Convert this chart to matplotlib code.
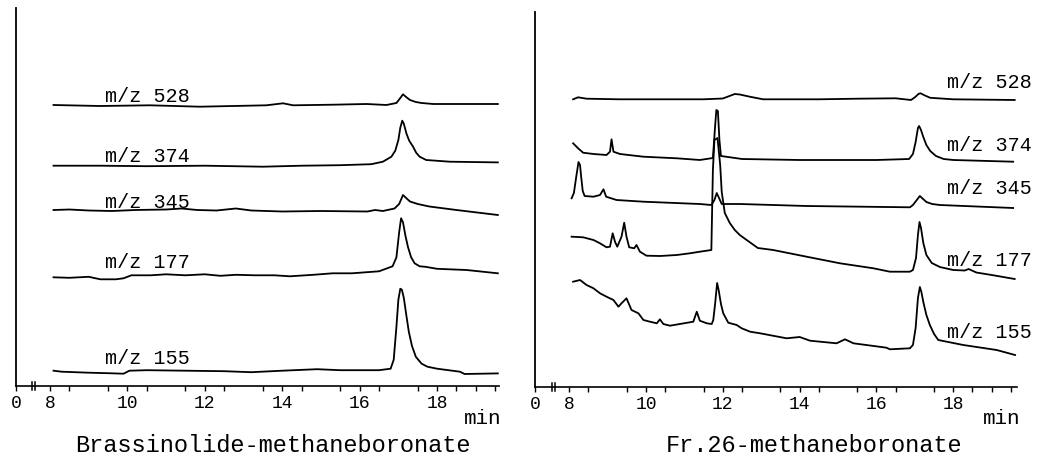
import matplotlib
matplotlib.use("Agg")
import matplotlib.pyplot as plt

W, H, DPI = 1041, 466, 100
plt.rcParams["font.family"] = ["Liberation Mono", "DejaVu Sans Mono"]

# ------------------------------------------------------------------ data
# selected-ion traces, retention time (min) vs. relative signal above each
# trace's own baseline (arbitrary units)
ions = ["528", "374", "345", "177", "155"]
tick_min = [8, 10, 12, 14, 16, 18]

# Brassinolide-methaneboronate
bl_528_t = [8.09, 9.29, 10.58, 11.87, 13.59, 14.02, 14.28, 15.31, 16.18, 16.69,
            16.95, 17.05, 17.12, 17.2, 17.3, 17.45, 17.6, 17.9, 19.57]
bl_528_s = [0, -1, -0.3, -1.7, -0.3, 1.7, -0.3, 0.3, 1, 0, 2, 7, 10.7, 8, 5, 3,
            2, 1, 1]

bl_374_t = [8.09, 9.3, 10.5, 12.0, 13.5, 14.5, 15.5, 16.3, 16.6, 16.82, 16.92,
            17.0, 17.05, 17.10, 17.14, 17.21, 17.28, 17.38, 17.46, 17.55, 17.72,
            18.33, 19.57]
bl_374_s = [0, 0, -0.5, 0, -1, 0, 0.5, 1.5, 4, 9, 15, 25.7, 38, 45, 42, 32, 25,
            19, 13, 9, 5.7, 4, 3.3]

bl_345_t = [8.09, 8.5, 9.0, 9.6, 10.2, 11.0, 11.4, 11.8, 12.3, 12.8, 13.2, 14.0,
            15.0, 16.2, 16.4, 16.6, 16.9, 17.02, 17.12, 17.2, 17.3, 17.5, 17.8,
            18.5, 19.57]
bl_345_s = [0, 0.5, -0.5, -1, 0, 0.5, 1.5, 0, -0.5, 1.5, -0.5, -1.5, -1, -1.5, 0,
            -1, 1.5, 6, 15, 12, 8.5, 6, 3.5, 0, -5]

bl_177_t = [8.09, 8.5, 9.0, 9.3, 9.7, 9.9, 10.1, 10.6, 11.0, 11.5, 12.0, 12.4,
            12.8, 13.3, 13.8, 14.2, 14.8, 15.3, 15.8, 16.5, 16.85, 16.95, 17.02,
            17.07, 17.12, 17.18, 17.25, 17.33, 17.42, 17.55, 17.7, 18.0, 18.76,
            19.57]
bl_177_s = [0, -0.5, 0.5, -2, -2, -1, 2, 2, 3, 2, 3, 1.5, 2.5, 2, 2, 1, 2.5, 4, 4,
            6, 11, 20, 45, 59, 55, 42, 30, 20, 14, 11, 10.5, 8.5, 7.3, 4]

bl_155_t = [8.09, 8.3, 9.0, 9.5, 9.9, 10.05, 10.5, 11.5, 12.5, 13.2, 14.0, 14.9,
            15.5, 16.5, 16.8, 16.88, 16.95, 17.0, 17.05, 17.09, 17.14, 17.2, 17.27,
            17.35, 17.45, 17.6, 17.75, 18.0, 18.59, 18.71, 19.57]
bl_155_s = [1, 0, -1, -1.5, -2, 1, 1.5, 1, 0.5, -0.5, 1, 2.5, 1.5, 1.5, 3, 12, 45,
            72, 83, 82, 74, 58, 40, 26, 15, 8, 5, 3, 0, -2.3, -1.7]

# Fr.26-methaneboronate
fr_528_t = [8.10, 8.23, 8.45, 9.3, 10.5, 11.49, 12.0, 12.31, 12.44, 12.7, 13.05,
            14.5, 15.5, 16.5, 16.9, 17.0, 17.1, 17.15, 17.25, 17.4, 18.0, 19.6]
fr_528_s = [0, 2, 0.6, 0, 0, 0, 0.8, 5.3, 4.8, 2.6, 0, 0, 0.6, 1, -0.7, 2, 5.5, 6,
            4, 1.5, 0, -0.7]

fr_374_t = [8.10, 8.23, 8.36, 8.63, 8.97, 9.06, 9.10, 9.15, 9.32, 9.93, 10.80,
            11.40, 11.74, 11.80, 11.83, 11.87, 11.91, 11.95, 12.5, 14.0, 16.0,
            16.85, 16.95, 17.02, 17.08, 17.11, 17.16, 17.22, 17.3, 17.4, 17.55,
            17.75, 18.0, 19.56]
fr_374_s = [16.7, 11.7, 7.3, 6, 5, 8.3, 20.7, 8.3, 6, 3.3, 1.7, 0, 2, 35, 50, 49,
            20, 4, 1, 0, 0, 1, 6, 18, 32, 34, 30, 23, 15, 9, 4, 1, 0, -1.7]

fr_345_t = [8.06, 8.12, 8.18, 8.24, 8.28, 8.31, 8.35, 8.40, 8.63, 8.80, 8.89,
            8.96, 9.23, 9.93, 11.40, 11.70, 11.78, 11.84, 11.90, 11.97, 12.44,
            14.18, 16.87, 16.95, 17.05, 17.13, 17.2, 17.3, 17.45, 17.65, 19.56]
fr_345_s = [6.7, 12, 28, 43, 40, 28, 14, 9, 8.3, 10, 15.7, 8.3, 5, 3.3, 1, 0, 5,
            12, 7, 1, 1, -1, -2.3, 0, 5, 9, 6.5, 3, 1, 0, -3]

fr_177_t = [8.06, 8.36, 8.63, 8.80, 8.97, 9.06, 9.13, 9.19, 9.25, 9.36, 9.43,
            9.49, 9.56, 9.69, 9.75, 9.84, 10.01, 10.36, 10.80, 11.14, 11.40, 11.70,
            11.74, 11.78, 11.86, 11.93, 11.97, 12.05, 12.18, 12.31, 12.44, 12.62,
            12.91, 13.31, 14.18, 15.05, 15.92, 16.35, 16.87, 16.95, 17.03, 17.08,
            17.12, 17.16, 17.22, 17.3, 17.44, 17.65, 18.0, 18.3, 18.4, 18.6, 19.0,
            19.6]
fr_177_s = [33.3, 32.7, 30, 26.7, 22.7, 23.3, 36.7, 28.3, 23.3, 33.3, 47.3, 33.3,
            22.7, 21.7, 25, 18.3, 14.3, 14, 15, 16.7, 18.3, 20, 100, 130, 132, 105,
            78, 57, 47, 40, 35, 30, 22, 20, 13.3, 6.7, 1.7, -1.7, -1.7, 0, 12, 35,
            48, 42, 27, 15, 7, 3, 0, -0.5, 1, -2.5, -5, -9]

fr_155_t = [8.10, 8.28, 8.45, 8.63, 8.80, 8.97, 9.15, 9.28, 9.36, 9.49, 9.62, 9.80,
            9.93, 10.10, 10.28, 10.36, 10.45, 10.62, 10.88, 11.23, 11.32, 11.40,
            11.58, 11.71, 11.75, 11.80, 11.85, 11.89, 11.95, 12.01, 12.14, 12.36,
            12.49, 12.71, 12.97, 13.66, 14.0, 14.27, 14.96, 15.18, 15.40, 16.26,
            16.35, 16.87, 16.95, 17.02, 17.08, 17.13, 17.17, 17.22, 17.3, 17.39,
            17.5, 17.61, 18.26, 19.13, 19.61]
fr_155_s = [66.3, 68, 63, 59.7, 54.7, 51.3, 48, 41.3, 44.7, 49.7, 38, 34.7, 28,
            26.3, 24.7, 28.7, 24, 22.3, 24, 26.3, 36.3, 27.3, 24.7, 24, 28, 45, 65,
            58, 44, 34.7, 25.3, 23, 19.7, 16.3, 14.7, 9.7, 11, 7.3, 4.7, 8.7, 4.7,
            0.3, -1.3, -0.3, 3, 20, 50, 61, 56, 46, 33, 23, 14, 8, 3, -2, -7]

left = {"528": (bl_528_t, bl_528_s), "374": (bl_374_t, bl_374_s),
        "345": (bl_345_t, bl_345_s), "177": (bl_177_t, bl_177_s),
        "155": (bl_155_t, bl_155_s)}
right = {"528": (fr_528_t, fr_528_s), "374": (fr_374_t, fr_374_s),
         "345": (fr_345_t, fr_345_s), "177": (fr_177_t, fr_177_s),
         "155": (fr_155_t, fr_155_s)}

# ------------------------------------------------------------------ layout
# stacking offsets / label spots are in axis units (~ pixels above the x axis)
L = dict(rect=[16 / W, 80 / H, 483 / W, 378 / H], xlim=(7.121, 19.60),
         ylim=(0, 378), brk=(7.535, 7.61),
         off={"528": 281, "374": 220.3, "345": 176, "177": 108.7, "155": 14.3},
         lab_x=9.42, lab={"528": 290, "374": 229, "345": 183, "177": 123, "155": 28},
         title="Brassinolide-methaneboronate", title_x=273, min_x=483)
R = dict(rect=[535 / W, 79.5 / H, 482 / W, 374.5 / H], xlim=(7.107, 19.66),
         ylim=(0, 374.5), brk=(7.55, 7.63),
         off={"528": 287.2, "374": 226.5, "345": 181.5, "177": 116.5, "155": 38.5},
         lab_x=17.84, lab={"528": 304.5, "374": 241.5, "345": 198.5, "177": 125.5,
                           "155": 53.5},
         title="Fr.26-methaneboronate", title_x=814, min_x=1002)

fig = plt.figure(figsize=(W / DPI, H / DPI), dpi=DPI)


def panel(cfg, traces):
    ax = fig.add_axes(cfg["rect"])
    for ion in ions:
        t, s = traces[ion]
        ax.plot(t, [cfg["off"][ion] + v for v in s], color="k", lw=1.3,
                solid_joinstyle="round")
        ax.text(cfg["lab_x"], cfg["lab"][ion], f"m/z {ion}", fontsize=14.5,
                ha="left", va="center")
    ax.set_xlim(*cfg["xlim"]); ax.set_ylim(*cfg["ylim"])
    for s in ("top", "right"):
        ax.spines[s].set_visible(False)
    ax.spines["bottom"].set_linewidth(1.2)
    ax.spines["left"].set_linewidth(1.3)
    x0 = cfg["xlim"][0]
    ax.set_xticks([x0] + tick_min)
    ax.set_xticklabels(["0"] + [str(v) for v in tick_min])
    ax.set_xticks([v + 0.5 for v in range(8, 20) if v + 0.5 < cfg["xlim"][1]]
                  + [19], minor=True)
    ax.tick_params(axis="x", which="both", direction="out", length=3.5,
                   width=1, labelsize=13, pad=3)
    ax.set_yticks([])
    for bx in cfg["brk"]:
        ax.plot([bx, bx], [-4, 4], color="k", lw=1.1, clip_on=False)
    fig.text(cfg["min_x"] / W, 1 - 418 / H, "min", fontsize=15,
             ha="center", va="center")
    fig.text(cfg["title_x"] / W, 1 - 445 / H, cfg["title"], fontsize=17,
             ha="center", va="center")
    return ax


panel(L, left)
panel(R, right)

fig.savefig("out.png", dpi=DPI)
